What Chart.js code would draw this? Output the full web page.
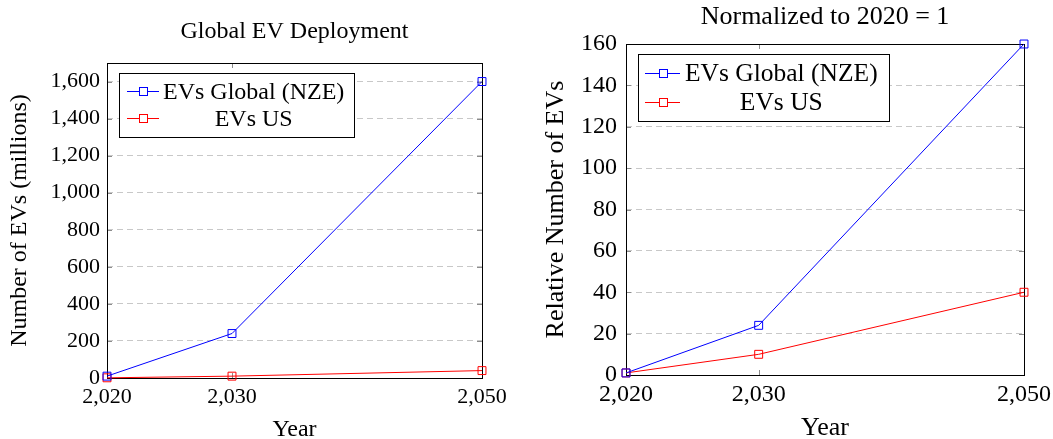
<!DOCTYPE html>
<html>
<head>
<meta charset="utf-8">
<title>EV deployment</title>
<script src="https://cdn.jsdelivr.net/npm/chart.js@4.4.1/dist/chart.umd.min.js"></script>
<style>
  html, body { margin: 0; padding: 0; background: #fff; }
  #wrap { position: relative; width: 1053px; height: 439px; }
  canvas { position: absolute; top: 0; }
</style>
</head>
<body>
<div id="wrap">
  <canvas id="absChart" width="530" height="439" style="left:0"></canvas>
  <canvas id="relChart" width="523" height="439" style="left:530px"></canvas>
</div>
<script>
// data
const years = [2020, 2030, 2050];
const seriesNames = ['EVs Global (NZE)', 'EVs US'];
const evGlobal = [10, 240, 1600];   // millions
const evUS = [1, 10, 40];
const relGlobal = [1, 24, 160];     // normalized to 2020 = 1
const relUS = [1, 10, 40];
const absYTicks = [0, 200, 400, 600, 800, 1000, 1200, 1400, 1600];
const relYTicks = [0, 20, 40, 60, 80, 100, 120, 140, 160];

const FONT = '"Liberation Serif", "Times New Roman", serif';
const BLUE = 'rgb(0,0,255)';
const RED = 'rgb(255,0,0)';

// frame + inner tick marks + title centred over the plot box (pgfplots look)
const framePlugin = {
  id: 'frame',
  beforeDatasetsDraw(chart, args, o) {
    const { ctx, chartArea: a, scales } = chart;
    ctx.save();
    ctx.strokeStyle = '#8c8c8c';
    ctx.lineWidth = 1;
    const tl = 5;
    scales.y.ticks.forEach(t => {
      const y = Math.round(scales.y.getPixelForValue(t.value)) + 0.5;
      ctx.beginPath();
      ctx.moveTo(a.left, y); ctx.lineTo(a.left + tl, y);
      ctx.moveTo(a.right, y); ctx.lineTo(a.right - tl, y);
      ctx.stroke();
    });
    scales.x.ticks.forEach(t => {
      const x = Math.round(scales.x.getPixelForValue(t.value)) + 0.5;
      ctx.beginPath();
      ctx.moveTo(x, a.bottom); ctx.lineTo(x, a.bottom - tl);
      ctx.moveTo(x, a.top); ctx.lineTo(x, a.top + tl);
      ctx.stroke();
    });
    ctx.strokeStyle = '#000';
    ctx.strokeRect(Math.round(a.left) + 0.5, Math.round(a.top) + 0.5,
      Math.round(a.right - a.left), Math.round(a.bottom - a.top));

    ctx.fillStyle = '#000';
    ctx.font = o.size + 'px ' + FONT;
    ctx.textAlign = 'center';
    ctx.textBaseline = 'middle';
    ctx.fillText(o.text, (a.left + a.right) / 2, o.y);
    ctx.restore();
  }
};

// boxed legend drawn inside the plot area
const boxLegend = {
  id: 'boxLegend',
  afterDraw(chart, args, o) {
    const { ctx, chartArea: a } = chart;
    const x0 = Math.round(a.left + o.dx), y0 = Math.round(a.top + o.dy);
    ctx.save();
    ctx.fillStyle = '#fff';
    ctx.fillRect(x0, y0, o.w, o.h);
    ctx.strokeStyle = '#000';
    ctx.lineWidth = 1;
    ctx.strokeRect(x0 + 0.5, y0 + 0.5, o.w, o.h);
    ctx.font = o.size + 'px ' + FONT;
    const labels = chart.data.datasets.map(d => d.label);
    const colW = Math.max(...labels.map(t => ctx.measureText(t).width));
    chart.data.datasets.forEach((ds, i) => {
      const y = Math.round(y0 + o.rowTop + i * o.rowGap) + 0.5;
      ctx.strokeStyle = ds.borderColor;
      ctx.beginPath();
      ctx.moveTo(x0 + o.lineX0, y); ctx.lineTo(x0 + o.lineX1, y);
      ctx.stroke();
      const mx = Math.round(x0 + (o.lineX0 + o.lineX1) / 2) + 0.5;
      ctx.fillStyle = '#fff';
      ctx.fillRect(mx - 4, y - 4, 8, 8);
      ctx.strokeRect(mx - 4, y - 4, 8, 8);
      ctx.fillStyle = '#000';
      ctx.textAlign = 'center';
      ctx.textBaseline = 'middle';
      ctx.fillText(labels[i], x0 + o.textX + colW / 2, y + 1);
    });
    ctx.restore();
  }
};

function makeChart(id, c) {
  const canvas = document.getElementById(id);
  const H = canvas.height, W = canvas.width;
  const dsStyle = color => ({
    borderColor: color,
    backgroundColor: 'rgba(0,0,0,0)',
    borderWidth: 1,
    pointStyle: 'rect',
    pointRadius: 5.6,
    pointBorderWidth: 1,
    pointBackgroundColor: 'rgba(0,0,0,0)',
    tension: 0,
    clip: false
  });
  return new Chart(canvas.getContext('2d'), {
    type: 'line',
    data: {
      datasets: [
        Object.assign({ label: seriesNames[0], data: years.map((x, i) => ({ x, y: c.global[i] })) }, dsStyle(BLUE)),
        Object.assign({ label: seriesNames[1], data: years.map((x, i) => ({ x, y: c.us[i] })) }, dsStyle(RED))
      ]
    },
    options: {
      responsive: false,
      animation: false,
      layout: { padding: { left: 0, right: W - c.area.right, top: c.area.top, bottom: 0 } },
      plugins: {
        legend: { display: false },
        tooltip: { enabled: false },
        title: { display: false },
        frame: { text: c.title, size: c.titleSize, y: c.titleY },
        boxLegend: c.legend
      },
      scales: {
        x: {
          type: 'linear',
          min: 2020,
          max: 2050,
          afterBuildTicks: s => { s.ticks = years.map(v => ({ value: v })); },
          afterFit: s => { s.height = H - c.area.bottom; s.paddingLeft = 0; s.paddingRight = 0; },
          grid: { display: false, drawTicks: false },
          border: { display: false },
          ticks: {
            color: '#000',
            padding: c.xTickPad,
            maxRotation: 0,
            autoSkip: false,
            font: { family: FONT, size: c.tickSize },
            callback: v => v.toLocaleString('en-US')
          },
          title: {
            display: true,
            text: 'Year',
            color: '#000',
            font: { family: FONT, size: c.axisSize },
            padding: { top: 0, bottom: c.xTitlePad }
          }
        },
        y: {
          min: 0,
          max: c.yMax,
          afterBuildTicks: s => { s.ticks = c.yTicks.map(v => ({ value: v })); },
          afterFit: s => { s.width = c.area.left; s.paddingTop = 0; s.paddingBottom = 0; },
          grid: {
            color: '#c8c8c8',
            lineWidth: 1,
            drawTicks: false
          },
          border: { display: false, dash: [6, 4] },
          ticks: {
            color: '#000',
            padding: c.yTickPad,
            font: { family: FONT, size: c.tickSize },
            callback: v => v.toLocaleString('en-US')
          },
          title: {
            display: true,
            text: c.yTitle,
            color: '#000',
            font: { family: FONT, size: c.axisSize },
            padding: { top: c.yTitlePad, bottom: 0 }
          }
        }
      }
    },
    plugins: [framePlugin, boxLegend]
  });
}

makeChart('absChart', {
  title: 'Global EV Deployment',
  yTitle: 'Number of EVs (millions)',
  global: evGlobal,
  us: evUS,
  yTicks: absYTicks,
  yMax: 1700,
  area: { left: 107, right: 482, top: 63, bottom: 378 },
  titleSize: 24, titleY: 32,
  tickSize: 22, axisSize: 24,
  xTickPad: 6, yTickPad: 7, xTitlePad: -5, yTitlePad: 5,
  legend: { dx: 12, dy: 10, w: 235, h: 64, lineX0: 8, lineX1: 40, textX: 44, rowTop: 18, rowGap: 27, size: 24 }
});

makeChart('relChart', {
  title: 'Normalized to 2020 = 1',
  yTitle: 'Relative Number of EVs',
  global: relGlobal,
  us: relUS,
  yTicks: relYTicks,
  yMax: 160,
  area: { left: 96, right: 494, top: 44, bottom: 375 },
  titleSize: 26, titleY: 17,
  tickSize: 24, axisSize: 26,
  xTickPad: 5, yTickPad: 9, xTitlePad: -5, yTitlePad: 11,
  legend: { dx: 12, dy: 10, w: 251, h: 67, lineX0: 7, lineX1: 42, textX: 47, rowTop: 19, rowGap: 29, size: 25.5 }
});
</script>
</body>
</html>
